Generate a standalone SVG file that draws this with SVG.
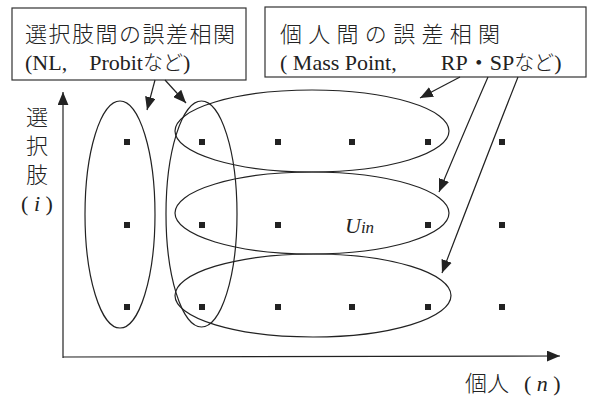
<svg xmlns="http://www.w3.org/2000/svg" width="592" height="398" viewBox="0 0 592 398">
<defs>
<style>
.ln{fill:none;stroke:#222;stroke-width:1.2}
.box{fill:#fff;stroke:#333;stroke-width:1.2}
.jp{font-family:"Noto Sans CJK JP","Liberation Serif",sans-serif;font-size:22px;font-weight:300;fill:#222}
.lat{font-family:"Liberation Serif","Noto Sans CJK JP",serif;font-size:22px;fill:#222}
.kana{font-family:"Noto Sans CJK JP",sans-serif;font-size:20px;font-weight:300}
.dot{fill:#222}
</style>
<marker id="ah" viewBox="0 0 12 10" refX="12" refY="5" markerWidth="13" markerHeight="11" markerUnits="userSpaceOnUse" orient="auto">
<path d="M0,0 L12,5 L0,10 Z" fill="#222"/>
</marker>
</defs>
<rect width="592" height="398" fill="#fff"/>

<g id="box-choice">
<rect class="box" x="12" y="8" width="234" height="72"/>
<text class="jp" x="25" y="42" font-size="21" textLength="210" lengthAdjust="spacing">選択肢間の誤差相関</text>
<text class="lat" x="25" y="70">(NL,　Probit<tspan class="kana">など</tspan>)</text>
</g>

<g id="box-indiv">
<rect class="box" x="265" y="7" width="321" height="70"/>
<text class="jp" x="280" y="42" font-size="21" textLength="220" lengthAdjust="spacing">個人間の誤差相関</text>
<text class="lat" x="280" y="70">( Mass Point,　　RP・SP<tspan class="kana">など</tspan>)</text>
</g>

<g id="axis-labels">
<text class="jp" x="37" y="125" text-anchor="middle">選</text>
<text class="jp" x="37" y="154" text-anchor="middle">択</text>
<text class="jp" x="37" y="183" text-anchor="middle">肢</text>
<text class="lat" x="37" y="211" text-anchor="middle">( <tspan font-style="italic">i</tspan> )</text>
<text class="jp" x="465" y="391">個人</text>
<text class="lat" x="524" y="391">( <tspan font-style="italic">n</tspan> )</text>
</g>

<g id="ellipses">
<ellipse class="ln" cx="120" cy="214.5" rx="35" ry="113.5"/>
<ellipse class="ln" cx="201.5" cy="214" rx="35.5" ry="113"/>
<ellipse class="ln" cx="312" cy="131" rx="137" ry="41"/>
<ellipse class="ln" cx="312" cy="213" rx="137" ry="41"/>
<ellipse class="ln" cx="313" cy="295.5" rx="138" ry="41.5"/>
</g>

<g id="dots">
<rect class="dot" x="124" y="139" width="6" height="6"/>
<rect class="dot" x="199" y="139" width="6" height="6"/>
<rect class="dot" x="275" y="139" width="6" height="6"/>
<rect class="dot" x="349" y="139" width="6" height="6"/>
<rect class="dot" x="425" y="139" width="6" height="6"/>
<rect class="dot" x="499" y="139" width="6" height="6"/>
<rect class="dot" x="124" y="222" width="6" height="6"/>
<rect class="dot" x="199" y="222" width="6" height="6"/>
<rect class="dot" x="275" y="222" width="6" height="6"/>
<rect class="dot" x="425" y="222" width="6" height="6"/>
<rect class="dot" x="499" y="222" width="6" height="6"/>
<rect class="dot" x="124" y="304" width="6" height="6"/>
<rect class="dot" x="199" y="304" width="6" height="6"/>
<rect class="dot" x="275" y="304" width="6" height="6"/>
<rect class="dot" x="349" y="304" width="6" height="6"/>
<rect class="dot" x="425" y="304" width="6" height="6"/>
<rect class="dot" x="499" y="304" width="6" height="6"/>
</g>

<g id="uin">
<text class="lat" x="345" y="233" font-size="21" font-style="italic">U<tspan font-size="17">in</tspan></text>
</g>

<g id="connectors">
<path class="ln" d="M63,358 L63,92" marker-end="url(#ah)"/>
<path class="ln" d="M63,357 L560,356" marker-end="url(#ah)"/>
<path class="ln" d="M155,80 L147,110" marker-end="url(#ah)"/>
<path class="ln" d="M165,80 L186,103" marker-end="url(#ah)"/>
<path class="ln" d="M460,77 L420,98" marker-end="url(#ah)"/>
<path class="ln" d="M488,77 Q470,118 439,192" marker-end="url(#ah)"/>
<path class="ln" d="M518,77 Q493,140 442,273" marker-end="url(#ah)"/>
</g>
</svg>
